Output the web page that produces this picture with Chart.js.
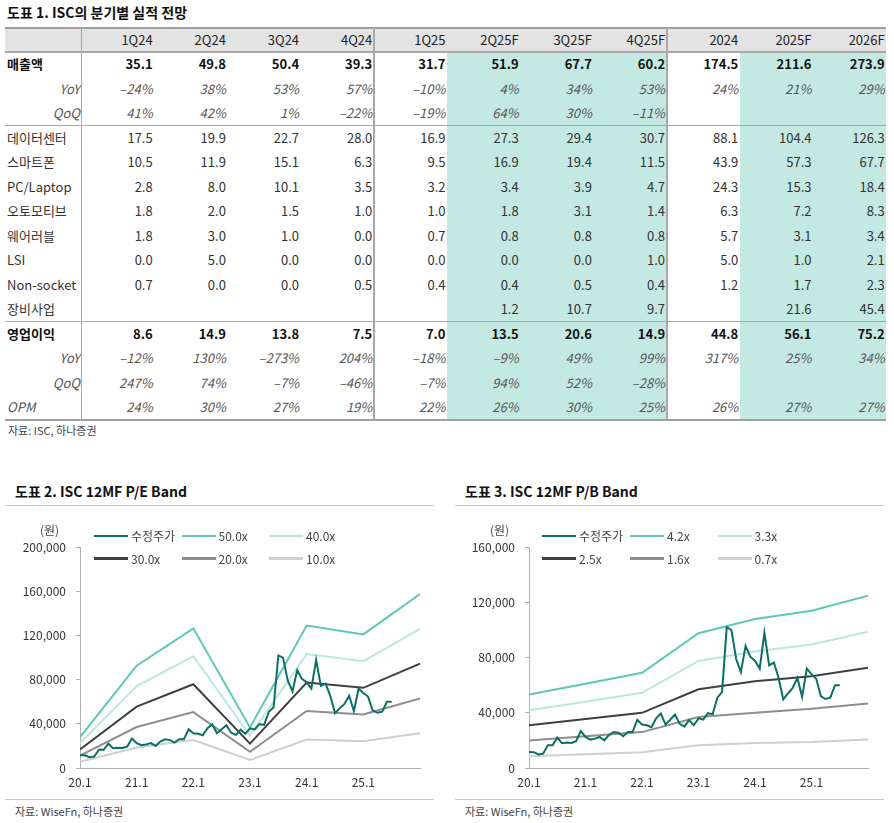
<!DOCTYPE html>
<html><head><meta charset="utf-8">
<script src="https://cdn.jsdelivr.net/npm/chart.js@4.4.1/dist/chart.umd.min.js"></script>
<style>
body{margin:0;background:#fff;width:894px;height:823px;position:relative;overflow:hidden;font-family:"Noto Sans CJK KR","Noto Sans",sans-serif;color:#333;}
.abs{position:absolute;white-space:nowrap;}
.ttl{font-weight:bold;font-size:14px;color:#111;line-height:20px;}
.src{font-size:11px;color:#444;line-height:16px;}
.hl{position:absolute;background:#a8a8a8;}
.cell{position:absolute;white-space:nowrap;font-size:13px;box-sizing:border-box;}
.leg{position:absolute;display:flex;align-items:center;font-size:12px;color:#444;line-height:16px;white-space:nowrap;z-index:2;}
.leg span.ln{display:inline-block;width:34px;height:2.5px;margin-right:3px;}
canvas{position:absolute;z-index:1;}
</style></head><body>
<div id="root"></div>
<script>
// ---------- table data ----------
const colHeaders = ['1Q24','2Q24','3Q24','4Q24','1Q25','2Q25F','3Q25F','4Q25F','2024','2025F','2026F'];
const sales      = ['35.1','49.8','50.4','39.3','31.7','51.9','67.7','60.2','174.5','211.6','273.9'];
const salesYoY   = ['–24%','38%','53%','57%','–10%','4%','34%','53%','24%','21%','29%'];
const salesQoQ   = ['41%','42%','1%','–22%','–19%','64%','30%','–11%','','',''];
const dataCenter = ['17.5','19.9','22.7','28.0','16.9','27.3','29.4','30.7','88.1','104.4','126.3'];
const smartphone = ['10.5','11.9','15.1','6.3','9.5','16.9','19.4','11.5','43.9','57.3','67.7'];
const pcLaptop   = ['2.8','8.0','10.1','3.5','3.2','3.4','3.9','4.7','24.3','15.3','18.4'];
const automotive = ['1.8','2.0','1.5','1.0','1.0','1.8','3.1','1.4','6.3','7.2','8.3'];
const wearable   = ['1.8','3.0','1.0','0.0','0.7','0.8','0.8','0.8','5.7','3.1','3.4'];
const lsi        = ['0.0','5.0','0.0','0.0','0.0','0.0','0.0','1.0','5.0','1.0','2.1'];
const nonSocket  = ['0.7','0.0','0.0','0.5','0.4','0.4','0.5','0.4','1.2','1.7','2.3'];
const equipment  = ['','','','','','1.2','10.7','9.7','','21.6','45.4'];
const opProfit   = ['8.6','14.9','13.8','7.5','7.0','13.5','20.6','14.9','44.8','56.1','75.2'];
const opYoY      = ['–12%','130%','–273%','204%','–18%','–9%','49%','99%','317%','25%','34%'];
const opQoQ      = ['247%','74%','–7%','–46%','–7%','94%','52%','–28%','','',''];
const opm        = ['24%','30%','27%','19%','22%','26%','30%','25%','26%','27%','27%'];

// ---------- chart data ----------
const xTickLabels = ['20.1','21.1','22.1','23.1','24.1','25.1'];
const bandMonths = [0,12,24,36,48,60,72];
const price = [11600,11500,9800,10400,16500,16500,22000,18000,18400,18200,19400,26700,
  22500,20600,21300,22500,20000,24000,26000,25500,23000,26000,26000,35000,
  31500,31000,29600,36000,39500,31500,35000,38800,32000,30000,34700,31000,
  36000,35000,39700,39000,51000,55000,102000,100000,79000,69500,88500,80700,
  77600,72000,98000,74400,76400,65400,49700,54000,58000,65400,51600,72000,
  67900,64700,52000,50000,51000,60000,60000];
const peLabels = ['50.0x','40.0x','30.0x','20.0x','10.0x'];
const pe50 = [28000,92700,126500,36800,129000,121000,157500];
const pe40 = [22400,74200,101200,29400,103200,96800,126000];
const pe30 = [16800,55600,75900,22100,77400,72600,94500];
const pe20 = [11200,37100,50600,14700,51600,48400,63000];
const pe10 = [5600,18500,25300,7400,25800,24200,31500];
const pbLabels = ['4.2x','3.3x','2.5x','1.6x','0.7x'];
const pb42 = [53300,61000,69000,97700,107900,114000,124800];
const pb33 = [41900,48000,54500,77600,84500,89500,98700];
const pb25 = [31000,35500,40000,57000,62800,66500,72700];
const pb16 = [19900,23000,26000,37000,40000,43000,46800];
const pb07 = [8500,10000,11400,16500,18200,18900,20600];

const root = document.getElementById('root');
function el(cls, style, text){
  const d = document.createElement('div');
  d.className = cls; Object.assign(d.style, style);
  if (text !== undefined) d.textContent = text;
  root.appendChild(d); return d;
}

// ---------- table ----------
el('abs ttl', {left:'7px', top:'2px'}, '도표 1. ISC의 분기별 실적 전망');
const T_LEFT = 5, LABEL_W = 76, COL_W = 73.2, HEAD_TOP = 28, HEAD_H = 24, ROW_H = 24.5, BODY_TOP = 52;
const tableRight = T_LEFT + LABEL_W + COL_W * colHeaders.length;
el('abs', {left:T_LEFT+'px', top:HEAD_TOP+'px', width:(tableRight-T_LEFT)+'px', height:HEAD_H+'px', background:'#e3e3e3'});
const rows = [
  ['매출액', sales, 'bold'], ['YoY', salesYoY, 'ital'], ['QoQ', salesQoQ, 'ital'],
  ['데이터센터', dataCenter, 'reg'], ['스마트폰', smartphone, 'reg'], ['PC/Laptop', pcLaptop, 'reg'],
  ['오토모티브', automotive, 'reg'], ['웨어러블', wearable, 'reg'], ['LSI', lsi, 'reg'],
  ['Non-socket', nonSocket, 'reg'], ['장비사업', equipment, 'reg'],
  ['영업이익', opProfit, 'bold'], ['YoY', opYoY, 'ital'], ['QoQ', opQoQ, 'ital'], ['OPM', opm, 'italL']
];
const bodyBottom = BODY_TOP + ROW_H * rows.length;
[[5,8],[9,11]].forEach(([a,b])=>{
  el('abs', {left:(T_LEFT+LABEL_W+COL_W*a)+'px', top:BODY_TOP+'px', width:(COL_W*(b-a))+'px', height:(bodyBottom-BODY_TOP)+'px', background:'#c3e9e2'});
});
colHeaders.forEach((h,i)=>{
  el('cell', {left:(T_LEFT+LABEL_W+COL_W*i)+'px', top:HEAD_TOP+'px', width:COL_W+'px', height:HEAD_H+'px', lineHeight:HEAD_H+'px', textAlign:'right', paddingRight:'1.5px', color:'#222'}, h);
});
rows.forEach((r,ri)=>{
  const top = BODY_TOP + ROW_H*ri;
  const [label, vals, kind] = r;
  const st = {top:top+'px', height:ROW_H+'px', lineHeight:ROW_H+'px'};
  const font = kind==='bold' ? {fontWeight:'bold', color:'#111'} : (kind.startsWith('ital') ? {fontStyle:'italic', color:'#555'} : {color:'#333'});
  const lst = Object.assign({}, st, font, {left:T_LEFT+'px', width:LABEL_W+'px'});
  if (kind==='ital') Object.assign(lst, {textAlign:'right', paddingRight:'1px'}); else Object.assign(lst, {textAlign:'left', paddingLeft:'2px'});
  el('cell', lst, label);
  vals.forEach((v,i)=>{
    el('cell', Object.assign({}, st, font, {left:(T_LEFT+LABEL_W+COL_W*i)+'px', width:COL_W+'px', textAlign:'right', paddingRight:'1.5px'}), v);
  });
});
el('hl', {left:T_LEFT+'px', top:'27px', width:(tableRight-T_LEFT)+'px', height:'2px', background:'#a0a0a0'});
el('hl', {left:T_LEFT+'px', top:'51px', width:(tableRight-T_LEFT)+'px', height:'1.5px'});
el('hl', {left:T_LEFT+'px', top:(BODY_TOP+ROW_H*3-0.75)+'px', width:(tableRight-T_LEFT)+'px', height:'1.5px'});
el('hl', {left:T_LEFT+'px', top:(BODY_TOP+ROW_H*11-0.75)+'px', width:(tableRight-T_LEFT)+'px', height:'1.5px'});
el('hl', {left:T_LEFT+'px', top:(bodyBottom-0.5)+'px', width:(tableRight-T_LEFT)+'px', height:'2px', background:'#a0a0a0'});
[T_LEFT+LABEL_W, T_LEFT+LABEL_W+COL_W*4, T_LEFT+LABEL_W+COL_W*8].forEach(x=>{
  el('hl', {left:(x-0.5)+'px', top:'28px', width:'1.5px', height:(bodyBottom-28)+'px'});
});
el('abs src', {left:'8px', top:'422px'}, '자료: ISC, 하나증권');

// ---------- charts ----------
const COLORS = ['#0b7063','#5ec8b6','#b8e8df','#3f3f3f','#8e8e8e','#cfcfcf'];
const FONT = '"Noto Sans CJK KR","Noto Sans",sans-serif';
const CV_TOP = 530, CV_H = 270;
function makeChart(opts){
  const {left, axisW, padRight, title, bands, labels, yMax, legendCols} = opts;
  el('abs ttl', {left:(left+15)+'px', top:'481px'}, title);
  el('hl', {left:(left+5)+'px', top:'504.5px', width:'429px', height:'1.5px', background:'#c8c8c8'});
  el('hl', {left:(left+5)+'px', top:'798.5px', width:'429px', height:'1.5px', background:'#c8c8c8'});
  el('abs src', {left:(left+15)+'px', top:'803px'}, '자료: WiseFn, 하나증권');
  el('abs', {left:(left+40)+'px', top:'521px', fontSize:'12px', color:'#444', lineHeight:'18px', zIndex:2}, '(원)');
  const cv = document.createElement('canvas');
  cv.width = 440; cv.height = CV_H;
  cv.style.left = left+'px'; cv.style.top = CV_TOP+'px';
  cv.style.width = '440px'; cv.style.height = CV_H+'px';
  root.appendChild(cv);
  const datasets = [{label:'수정주가', data: price.map((v,i)=>({x:i, y:v})), borderColor:COLORS[0], borderWidth:2}];
  bands.forEach((b,k)=>datasets.push({label:labels[k], data: b.map((v,i)=>({x:bandMonths[i], y:v})), borderColor:COLORS[k+1], borderWidth:2}));
  datasets.forEach(d=>{d.pointRadius=0; d.tension=0; d.fill=false;});
  const chart = new Chart(cv, {
    type:'line',
    data:{datasets},
    options:{
      responsive:false, animation:false, devicePixelRatio:1,
      layout:{padding:{top:0, right:padRight, left:0, bottom:0}},
      plugins:{legend:{display:false}, tooltip:{enabled:false}},
      scales:{
        x:{type:'linear', min:0, max:72,
          afterBuildTicks:s=>{s.ticks = xTickLabels.map((_,i)=>({value:i*12}));},
          afterFit:s=>{s.height = 32;},
          ticks:{callback:v=>xTickLabels[v/12], color:'#333', font:{size:12, family:FONT}, padding:-1, maxRotation:0, autoSkip:false},
          grid:{display:false},
          border:{display:true, color:'#b0b0b0', width:1}},
        y:{min:0, max:yMax,
          afterBuildTicks:s=>{const t=[]; for(let v=0; v<=yMax; v+=40000) t.push({value:v}); s.ticks=t;},
          afterFit:s=>{s.width = axisW;},
          ticks:{callback:v=>v.toLocaleString('en-US'), color:'#333', font:{size:12, family:FONT}, padding:10},
          grid:{drawOnChartArea:false, drawTicks:true, tickLength:4, color:'#b0b0b0'},
          border:{display:true, color:'#b0b0b0', width:1}}
      }
    }
  });
  chart.data.datasets.forEach((d,i)=>{
    const row = Math.floor(i/3), col = i%3;
    const item = el('leg', {left:legendCols[col]+'px', top:(528+row*22.5)+'px'});
    const ln = document.createElement('span'); ln.className='ln'; ln.style.background = d.borderColor;
    const tx = document.createElement('span'); tx.textContent = d.label;
    item.appendChild(ln); item.appendChild(tx);
  });
  return chart;
}
makeChart({left:0, axisW:80, padRight:20, title:'도표 2. ISC 12MF P/E Band', bands:[pe50,pe40,pe30,pe20,pe10], labels:peLabels, yMax:200000, legendCols:[94,181.5,269]});
makeChart({left:450, axisW:79, padRight:22, title:'도표 3. ISC 12MF P/B Band', bands:[pb42,pb33,pb25,pb16,pb07], labels:pbLabels, yMax:160000, legendCols:[542,630,717.5]});
</script>
</body></html>
